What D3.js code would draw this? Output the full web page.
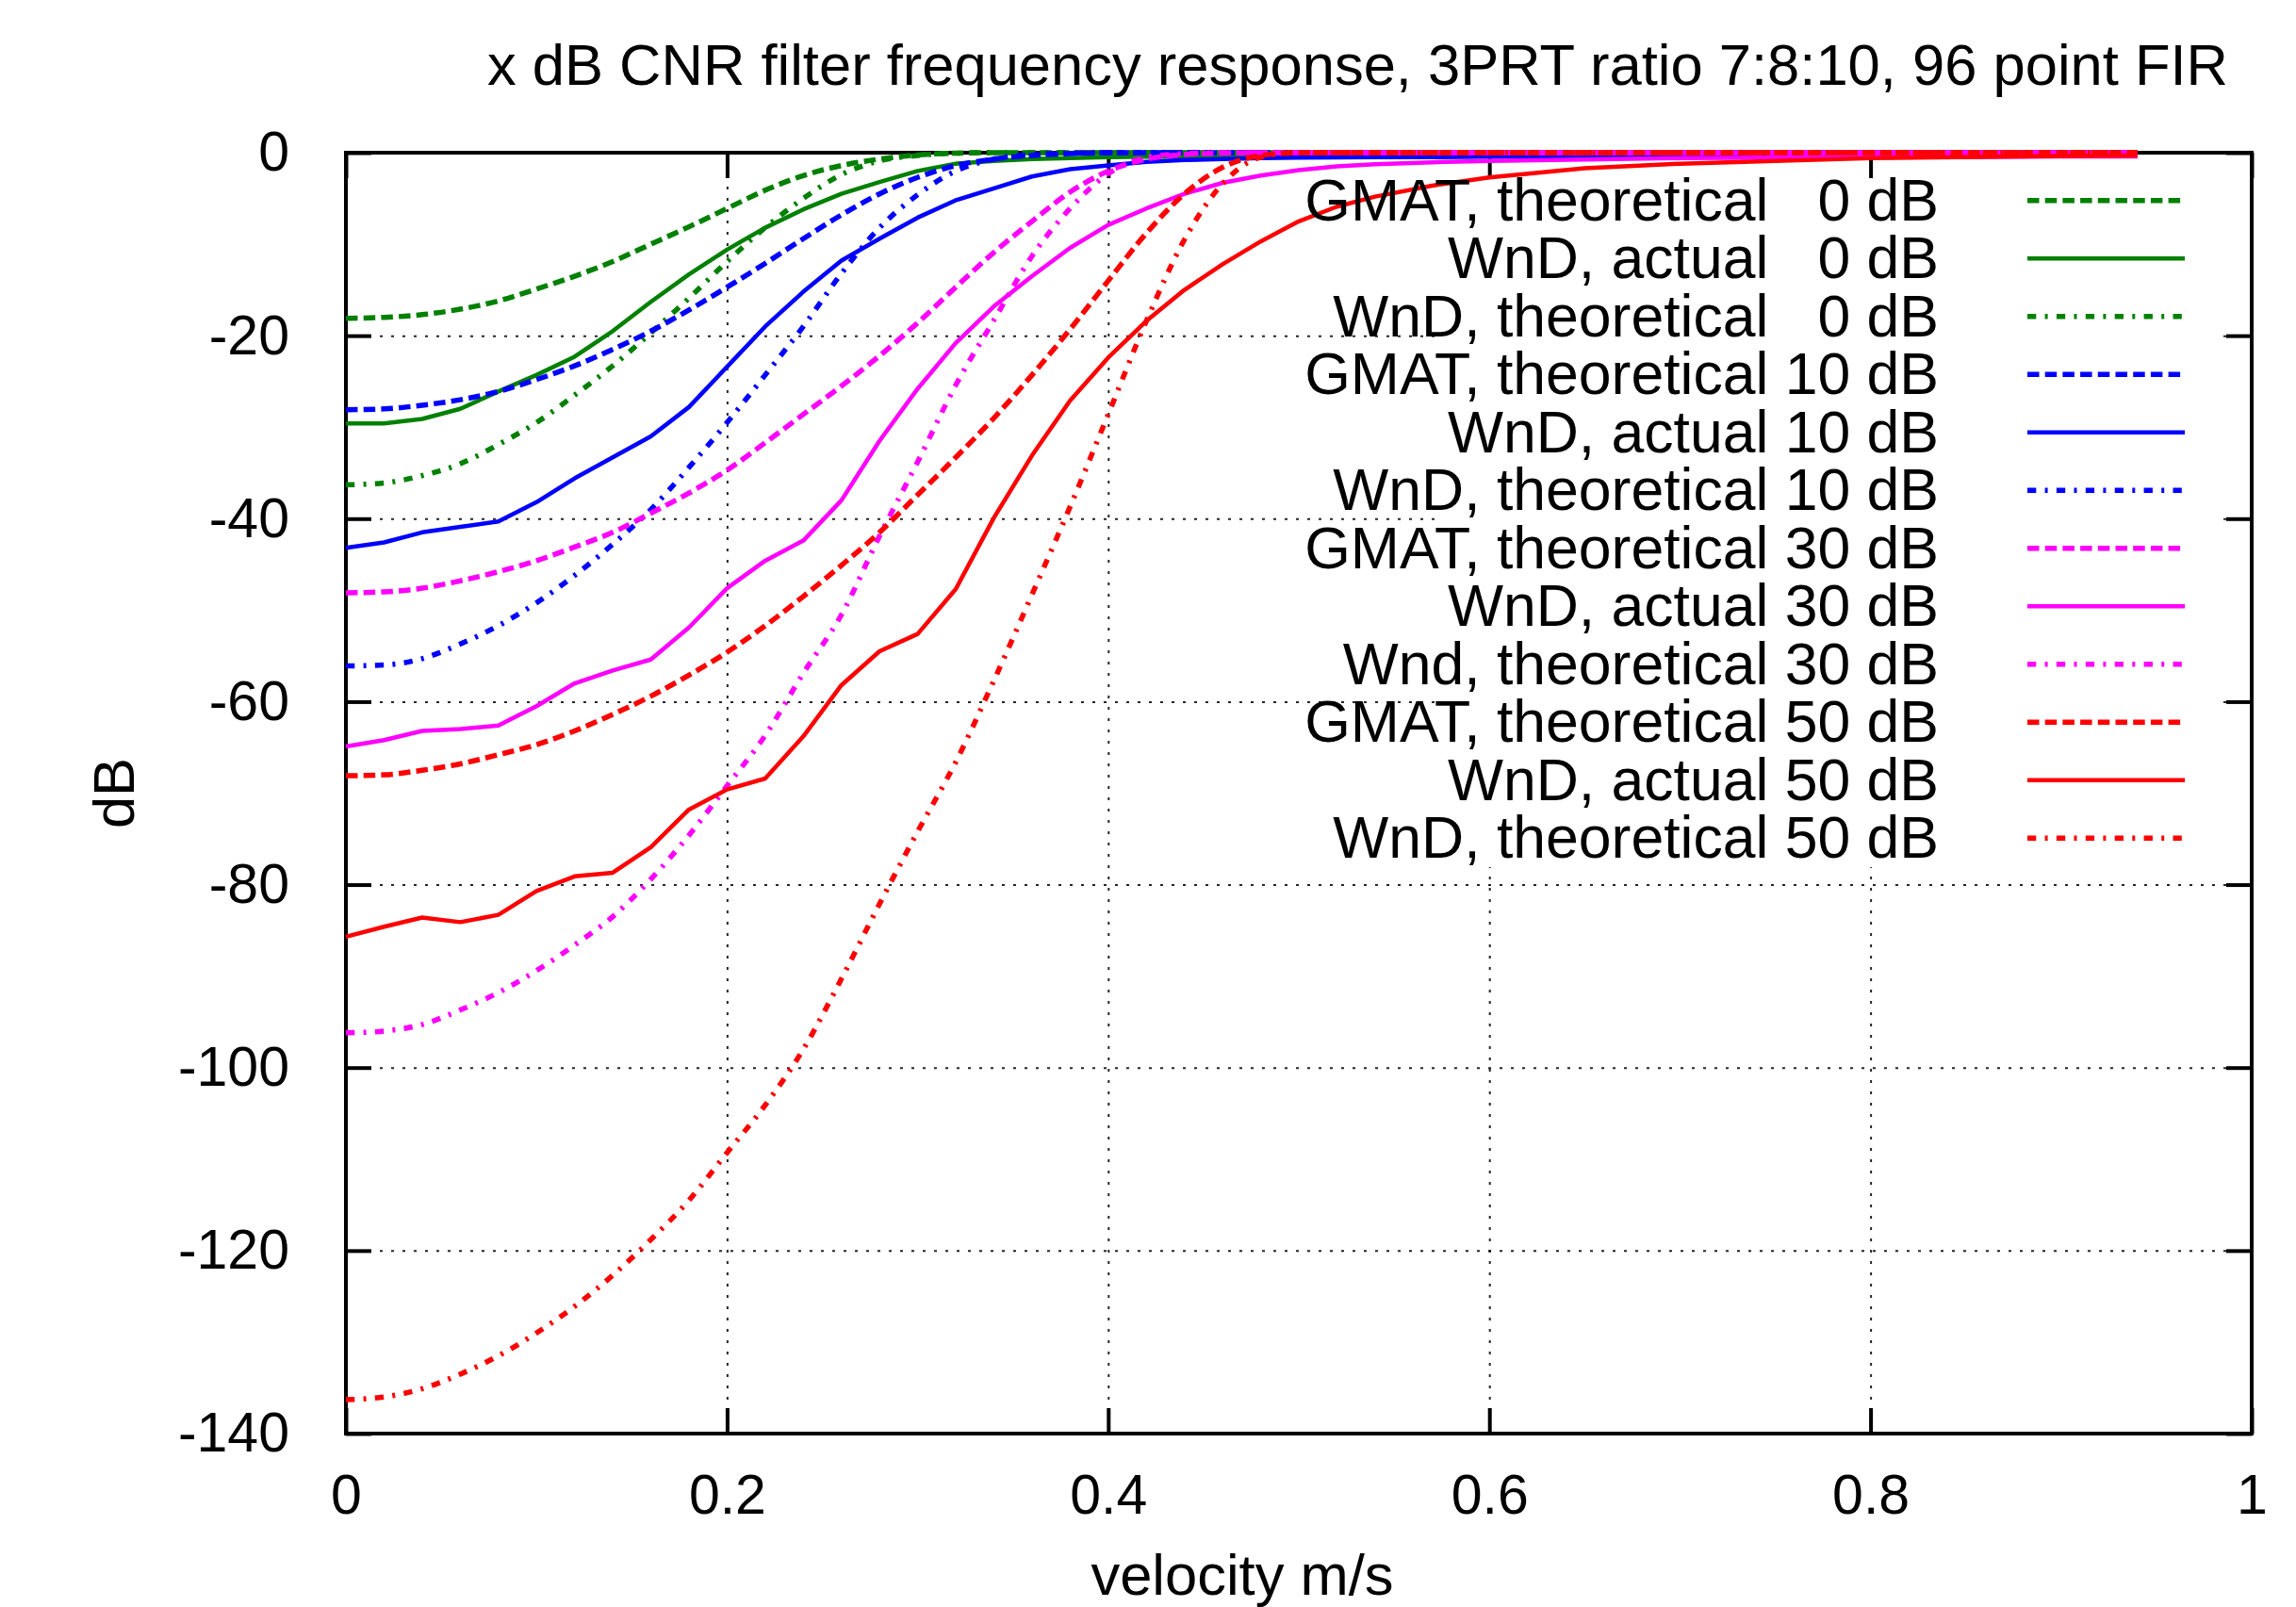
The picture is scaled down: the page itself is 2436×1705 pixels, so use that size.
<!DOCTYPE html>
<html>
<head>
<meta charset="utf-8">
<script src="https://cdn.jsdelivr.net/npm/d3@7"></script>
<style>
  body { margin: 0; background: #fff; }
  svg text { font-family: "Liberation Sans", Arial, Helvetica, sans-serif; fill: #000; }
  .grid line { stroke: #000; stroke-width: 2; stroke-dasharray: 3,9; opacity: 0.85; }
  .grid path { display: none; }
</style>
</head>
<body>
<svg id="myChart" width="2436" height="1705"></svg>
<script>

// velocity grid (m/s) the curves were read at
var velocity = [0, 0.02, 0.04, 0.06, 0.08, 0.10, 0.12, 0.14, 0.16, 0.18, 0.20, 0.22, 0.24, 0.26, 0.28, 0.30,
                0.32, 0.34, 0.36, 0.38, 0.40, 0.42, 0.44, 0.46, 0.48, 0.50, 0.52, 0.54, 0.57, 0.60, 0.65, 0.70,
                0.80, 0.90, 0.94];

// response in dB, one array per curve
var gmat0 = [-18.1, -18.0, -17.7, -17.1, -16.2, -14.9, -13.5, -11.9, -10.0, -8.1, -6.1, -4.1, -2.5, -1.4, -0.7, -0.25,
             -0.05, 0, 0, 0, 0, 0, 0, 0, 0, 0, 0, 0, 0, 0, 0, 0, 0, 0, 0];
var act0 = [-29.6, -29.6, -29.1, -28.0, -26.1, -24.3, -22.3, -19.5, -16.3, -13.3, -10.6, -8.2, -6.2, -4.5, -3.2, -2.0,
            -1.2, -0.9, -0.7, -0.6, -0.5, -0.45, -0.4, -0.4, -0.35, -0.35, -0.32, -0.3, -0.3, -0.3, -0.3, -0.3,
            -0.25, -0.25, -0.25];
var wnd0 = [-36.3, -36.1, -35.3, -34.0, -31.9, -29.5, -26.5, -23.3, -19.7, -15.9, -11.9, -8.2, -5.0, -2.4, -0.9, -0.3,
            -0.05, 0, 0, 0, 0, 0, 0, 0, 0, 0, 0, 0, 0, 0, 0, 0, 0, 0, 0];
var gmat10 = [-28.1, -28.0, -27.6, -27.0, -26.1, -24.8, -23.3, -21.5, -19.5, -17.2, -14.7, -12.1, -9.4, -6.8, -4.5, -2.7,
              -1.4, -0.7, -0.3, -0.1, 0, 0, 0, 0, 0, 0, 0, 0, 0, 0, 0, 0, 0, 0, 0];
var act10 = [-43.2, -42.6, -41.5, -40.9, -40.3, -38.2, -35.6, -33.3, -31.0, -27.8, -23.4, -19.0, -15.2, -11.8, -9.4, -7.1,
             -5.2, -3.9, -2.6, -1.8, -1.4, -1.0, -0.8, -0.7, -0.6, -0.55, -0.52, -0.5, -0.48, -0.45, -0.42, -0.4,
             -0.35, -0.3, -0.3];
var wnd10 = [-56.1, -56.0, -55.3, -53.7, -51.7, -49.2, -46.2, -42.8, -39.0, -34.4, -29.5, -24.3, -19.0, -13.2, -8.2, -4.6,
             -2.0, -0.7, -0.2, -0.05, 0, 0, 0, 0, 0, 0, 0, 0, 0, 0, 0, 0, 0, 0, 0];
var gmat30 = [-48.1, -48.0, -47.6, -46.8, -45.8, -44.6, -43.1, -41.5, -39.4, -37.2, -34.7, -31.7, -28.6, -25.5, -22.2, -18.6,
              -14.7, -10.9, -7.5, -4.3, -2.0, -0.7, -0.2, -0.05, 0, 0, 0, 0, 0, 0, 0, 0, 0, 0, 0];
var act30 = [-64.9, -64.2, -63.2, -63.0, -62.6, -60.5, -58.0, -56.6, -55.4, -51.9, -47.6, -44.6, -42.4, -38.0, -31.5, -25.8,
             -20.8, -16.8, -13.5, -10.4, -7.9, -6.1, -4.5, -3.3, -2.5, -1.9, -1.5, -1.25, -1.05, -0.9, -0.75, -0.6,
             -0.5, -0.4, -0.4];
var wnd30 = [-96.2, -96.0, -95.3, -93.7, -91.8, -89.4, -86.6, -83.5, -79.4, -74.6, -69.2, -63.7, -56.9, -50.5, -41.9, -33.8,
             -25.4, -18.3, -11.3, -6.1, -2.3, -0.5, -0.1, 0, 0, 0, 0, 0, 0, 0, 0, 0, 0, 0, 0];
var gmat50 = [-68.1, -68.0, -67.5, -66.8, -65.8, -64.7, -63.2, -61.4, -59.4, -57.1, -54.6, -51.7, -48.5, -45.1, -41.5, -37.4,
              -33.3, -29.0, -24.3, -19.3, -14.0, -8.8, -4.5, -1.6, -0.3, 0, 0, 0, 0, 0, 0, 0, 0, 0, 0];
var act50 = [-85.7, -84.6, -83.6, -84.1, -83.3, -80.7, -79.1, -78.7, -75.9, -71.8, -69.6, -68.4, -63.8, -58.2, -54.5, -52.6,
             -47.7, -39.9, -33.1, -27.1, -22.4, -18.4, -15.0, -12.2, -9.7, -7.5, -5.9, -4.8, -3.6, -2.7, -1.7, -1.2,
             -0.6, -0.35, -0.3];
var wnd50 = [-136.3, -136.0, -135.1, -133.5, -131.5, -129.0, -126.1, -122.7, -118.8, -114.5, -109.3, -104.1, -98.0, -90.3, -82.1, -74.2,
             -66.6, -57.7, -48.3, -38.7, -28.6, -18.4, -9.5, -3.4, -0.5, 0, 0, 0, 0, 0, 0, 0, 0, 0, 0];

var seriesLabels = ["GMAT, theoretical   0 dB", "WnD, actual   0 dB", "WnD, theoretical   0 dB",
                    "GMAT, theoretical 10 dB", "WnD, actual 10 dB", "WnD, theoretical 10 dB",
                    "GMAT, theoretical 30 dB", "WnD, actual 30 dB", "Wnd, theoretical 30 dB",
                    "GMAT, theoretical 50 dB", "WnD, actual 50 dB", "WnD, theoretical 50 dB"];
var seriesValues = [gmat0, act0, wnd0, gmat10, act10, wnd10, gmat30, act30, wnd30, gmat50, act50, wnd50];
var seriesKinds = ["dash", "solid", "dashdot", "dash", "solid", "dashdot", "dash", "solid", "dashdot", "dash", "solid", "dashdot"];
var seriesColors = ["#008000", "#008000", "#008000", "#0000ff", "#0000ff", "#0000ff",
                    "#ff00ff", "#ff00ff", "#ff00ff", "#ff0000", "#ff0000", "#ff0000"];

var xTicks = [0, 0.2, 0.4, 0.6, 0.8, 1];
var yTicks = [-140, -120, -100, -80, -60, -40, -20, 0];

var titleText = "x dB CNR filter frequency response, 3PRT ratio 7:8:10, 96 point FIR";

//layout (window.top is taken, so prefixed names)
var plotLeft = 367, plotRight = 2389, plotTop = 162, plotBottom = 1521,
    tickFont = 59, labelFont = 61.5, keyFont = 62.5;

var svg = d3.select("#myChart");

var x = d3.scaleLinear().domain([0, 1]).range([plotLeft, plotRight]);
var y = d3.scaleLinear().domain([-140, 0]).range([plotBottom, plotTop]);

//line styles
var dashFor = { solid: null, dash: "12.5,6.2", dashdot: "9.3,9.3,3,9.3" };
var widthFor = { solid: 4.5, dash: 5.5, dashdot: 5.5 };

//grid lines (inner ticks only)
svg.append("g")
    .attr("class", "grid")
    .attr("transform", "translate(0," + plotBottom + ")")
    .call(d3.axisBottom(x)
        .tickValues(xTicks.slice(1, -1))
        .tickSize(-(plotBottom - plotTop))
        .tickFormat(""));

svg.append("g")
    .attr("class", "grid")
    .attr("transform", "translate(" + plotLeft + ",0)")
    .call(d3.axisLeft(y)
        .tickValues(yTicks.slice(1, -1))
        .tickSize(-(plotRight - plotLeft))
        .tickFormat(""));

//gnuplot leaves the grid out where the key sits
svg.append("rect")
    .attr("x", 1522).attr("y", plotTop)
    .attr("width", 2357 - 1522).attr("height", 920 - plotTop)
    .attr("fill", "#fff");

//axes with inward ticks on all four sides
function styleAxis(g) {
    g.select(".domain").remove();
    g.selectAll(".tick line").attr("stroke", "#000").attr("stroke-width", 4);
    g.selectAll(".tick text").style("font-size", tickFont + "px").attr("fill", "#000");
}

svg.append("g")
    .attr("transform", "translate(0," + plotBottom + ")")
    .call(d3.axisBottom(x).tickValues(xTicks).tickSize(-27).tickPadding(43)
        .tickFormat(function(d) { return String(d); }))
    .call(styleAxis);

svg.append("g")
    .attr("transform", "translate(0," + plotTop + ")")
    .call(d3.axisTop(x).tickValues(xTicks).tickSize(-27).tickFormat(""))
    .call(styleAxis);

svg.append("g")
    .attr("transform", "translate(" + plotLeft + ",0)")
    .call(d3.axisLeft(y).tickValues(yTicks).tickSize(-27).tickPadding(60)
        .tickFormat(function(d) { return String(d); }))
    .call(styleAxis);

svg.append("g")
    .attr("transform", "translate(" + plotRight + ",0)")
    .call(d3.axisRight(y).tickValues(yTicks).tickSize(-27).tickFormat(""))
    .call(styleAxis);

//border
svg.append("rect")
    .attr("x", plotLeft).attr("y", plotTop)
    .attr("width", plotRight - plotLeft).attr("height", plotBottom - plotTop)
    .attr("fill", "none")
    .attr("stroke", "#000")
    .attr("stroke-width", 4);

//curves
var line = d3.line()
    .x(function(d) { return x(d[0]); })
    .y(function(d) { return y(d[1]); });

seriesValues.forEach(function(vals, i) {
    var pts = velocity.map(function(v, j) { return [v, vals[j]]; });
    var kind = seriesKinds[i];
    svg.append("path")
        .datum(pts)
        .attr("fill", "none")
        .attr("stroke", seriesColors[i])
        .attr("stroke-width", widthFor[kind])
        .attr("stroke-dasharray", dashFor[kind])
        .attr("stroke-linejoin", "round")
        .attr("d", line.curve(kind == "solid" ? d3.curveLinear : d3.curveMonotoneX));
});

//legend
var legend = svg.append("g").attr("class", "legend");
seriesLabels.forEach(function(label, i) {
    var ly = 212.7 + i * 61.5;
    legend.append("text")
        .attr("x", 2057)
        .attr("y", ly + 21)
        .attr("text-anchor", "end")
        .style("font-size", keyFont + "px")
        .style("white-space", "pre")
        .attr("xml:space", "preserve")
        .text(label);
    legend.append("line")
        .attr("x1", 2151).attr("x2", 2318)
        .attr("y1", ly).attr("y2", ly)
        .attr("stroke", seriesColors[i])
        .attr("stroke-width", widthFor[seriesKinds[i]])
        .attr("stroke-dasharray", dashFor[seriesKinds[i]]);
});

//title and axis labels
svg.append("text")
    .attr("x", 2364).attr("y", 90)
    .attr("text-anchor", "end")
    .style("font-size", labelFont + "px")
    .text(titleText);

svg.append("text")
    .attr("x", 1318).attr("y", 1692)
    .attr("text-anchor", "middle")
    .style("font-size", labelFont + "px")
    .text("velocity m/s");

svg.append("text")
    .attr("transform", "translate(142," + (plotTop + plotBottom) / 2 + ") rotate(-90)")
    .attr("text-anchor", "middle")
    .style("font-size", labelFont + "px")
    .text("dB");

</script>
</body>
</html>
